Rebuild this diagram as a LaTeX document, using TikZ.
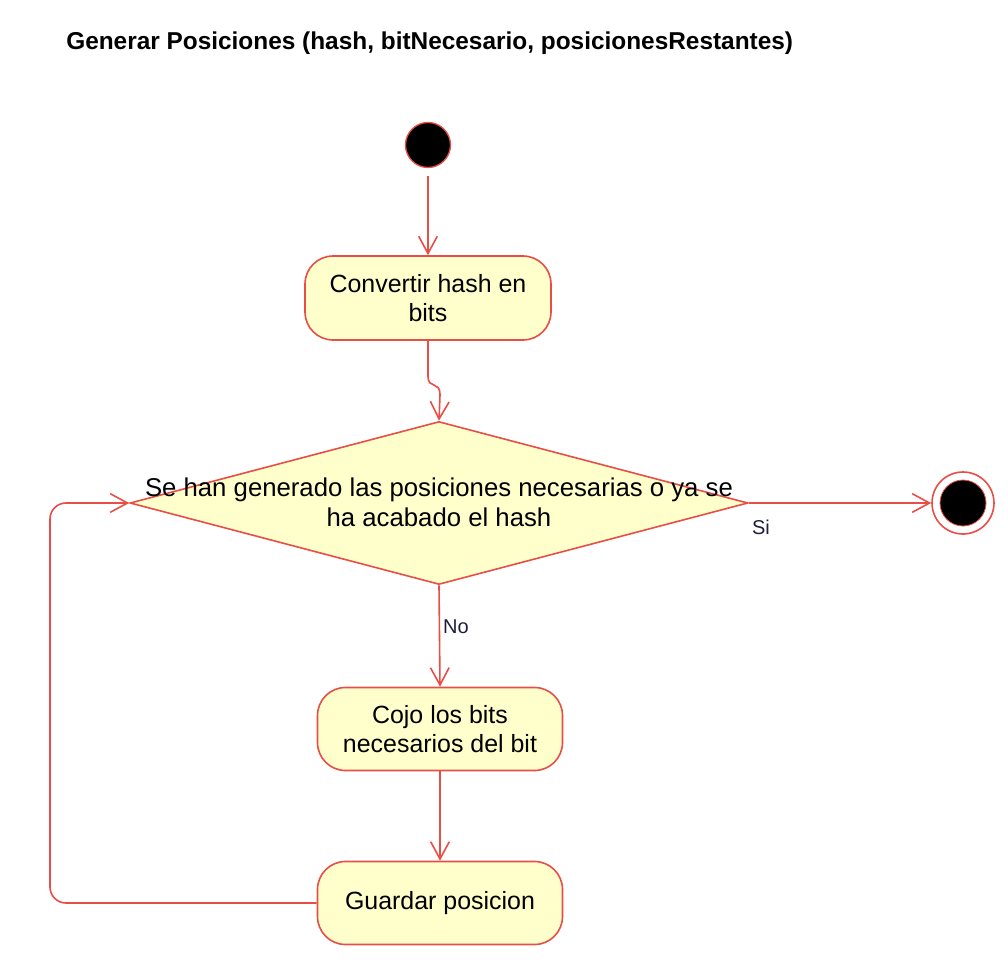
\documentclass[tikz,border=0pt]{standalone}
\usepackage{fontspec}
\setmainfont{Liberation Sans}
\usetikzlibrary{arrows.meta,shapes.geometric}
\definecolor{umlred}{RGB}{232,78,70}
\definecolor{umlfill}{RGB}{255,255,204}
\definecolor{lbl}{RGB}{30,30,60}
\begin{document}
\begin{tikzpicture}[x=0.75pt,y=-0.75pt,
  actbox/.style={draw=umlred, fill=umlfill, line width=1.2pt, rectangle, rounded corners=21pt,
    minimum width=184pt, minimum height=62pt, inner sep=0pt, align=center,
    font=\fontsize{18.7}{22}\selectfont},
  flow/.style={draw=umlred, line width=1.2pt, -{Straight Barb[length=13pt,width=14pt,line width=1.2pt]}},
  lab/.style={text=lbl, font=\fontsize{15}{18}\selectfont, inner sep=0pt},
  dectext/.style={align=center, inner sep=0pt, font=\fontsize{19.3}{22.5}\selectfont}
]
\useasboundingbox (0,0) rectangle (1008,974);
\node[anchor=west, inner sep=0pt, font=\bfseries\fontsize{18.3}{21}\selectfont] (title) at (66,43) {Generar Posiciones (hash, bitNecesario, posicionesRestantes)};

\node[circle, fill=black, draw=umlred, line width=1pt, minimum size=45pt*0.75, inner sep=0pt] (s) at (428,145) {};
\node[actbox, minimum width=246*0.75pt, minimum height=84*0.75pt] (b1) at (428,298) {Convertir hash en\\bits};
\node[diamond, draw=umlred, fill=umlfill, line width=1.2pt, minimum width=618*0.75pt, minimum height=163*0.75pt, inner sep=0pt] (d) at (439,503) {};
\node[dectext] (dt) at (439,502) {Se han generado las posiciones necesarias o ya se\\ha acabado el hash};
\node[actbox, minimum width=245*0.75pt, minimum height=83*0.75pt] (b2) at (440,729) {Cojo los bits\\necesarios del bit};
\node[actbox, minimum width=245*0.75pt, minimum height=83*0.75pt] (b3) at (440,903) {Guardar posicion};
\node[circle, draw=umlred, fill=white, line width=1.2pt, minimum size=62*0.75pt, inner sep=0pt] (f) at (963,503) {};
\node[circle, fill=black, draw=umlred, line width=0.6pt, minimum size=46*0.75pt, inner sep=0pt] (fi) at (f.center) {};

\draw[flow, shorten <=6pt] (s) -- (b1);
\draw[flow] (b1.south) -- (428,376) .. controls (428,390) and (440,380) .. (440,395) -- (d.north);
\draw[flow] (d.east) -- (f.west);
\node[lab] (si) at (761,527) {Si};
\draw[flow] (d.south) -- (b2.north);
\node[lab] (no) at (456,627) {No};
\draw[flow] (b2.south) -- (b3.north);
\draw[flow, rounded corners=12pt] (b3.west) -- (50,903) -- (50,503) -- (d.west);
\end{tikzpicture}
\end{document}
